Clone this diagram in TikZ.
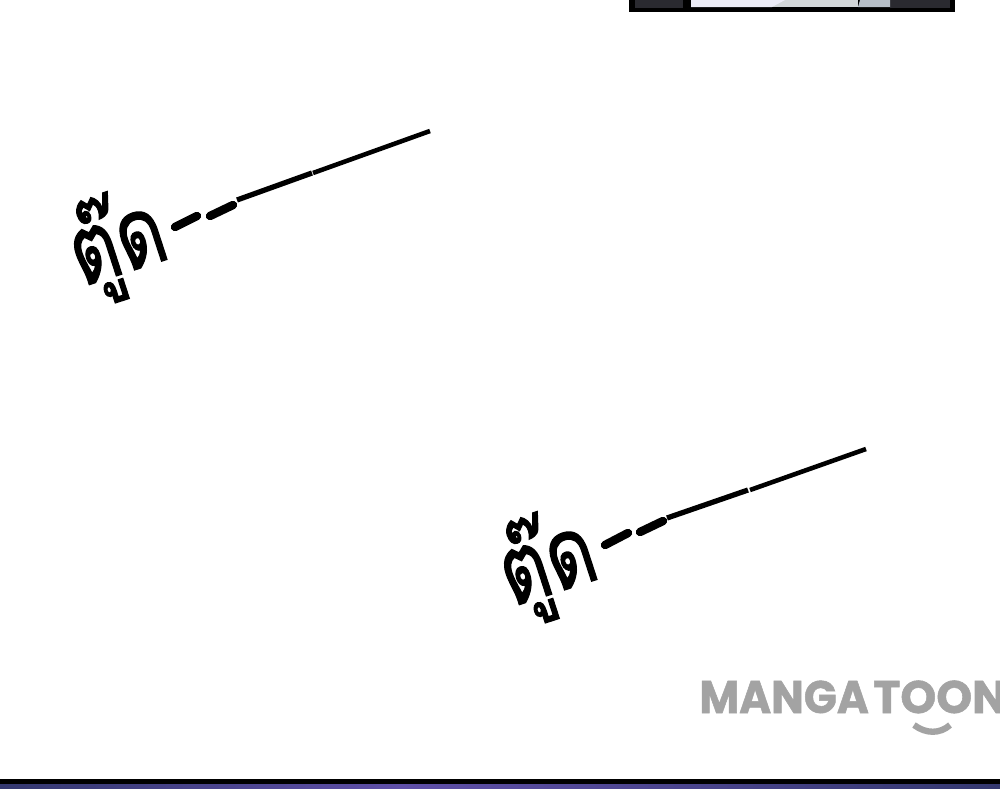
\documentclass[tikz,border=0pt]{standalone}
\usepackage{fontspec}
\setmainfont{Poppins}
\newfontfamily\thaifont[Script=Thai,FakeBold=1.5]{Loma}
\newfontfamily\logofont[FakeBold=1.2]{Poppins Bold}
\definecolor{logogray}{HTML}{A3A3A3}
\definecolor{paneldark}{HTML}{2A2A30}
\definecolor{panellight}{HTML}{ECECF6}
\definecolor{panelgray}{HTML}{D2D6D8}
\definecolor{panelslate}{HTML}{B6BEC6}
\definecolor{bandblue}{HTML}{34386F}
\definecolor{bandglow}{HTML}{5F4FA8}
\tikzset{
    sound/.style={font=\thaifont\fontsize{42}{42}\selectfont, rotate=18, yscale=1.32, inner sep=0pt},
    dashstroke/.style={line width=4.8pt, line cap=round},
    linestroke/.style={line width=2.6pt},
    logotext/.style={font=\logofont\fontsize{26}{26}\selectfont, text=logogray, inner sep=0pt, anchor=base west}
}
\begin{document}
\begin{tikzpicture}[x=0.02cm, y=-0.02cm]
        \useasboundingbox (0,0) rectangle (1000,788);
        \clip (0,0) rectangle (1000,788);

        % Panel cut off at the top
        \fill[black] (629,0) rectangle (955,12);
        \fill[paneldark] (635,0) rectangle (683,8);
        \fill[paneldark] (890,0) rectangle (950,8);
        \fill[panelgray] (691,0) rectangle (858,7);
        \fill[panellight] (691,0) -- (785,0) -- (772,7) -- (691,7) -- cycle;
        \fill[panelslate] (860,0) -- (890,0) -- (890,7) -- (858,7) -- cycle;

        % First sound
        \node[sound] (soundA) at (118,245) {ตู๊ด};
        \draw[dashstroke] (175,227) -- (197,216);
        \draw[dashstroke] (210,216) -- (233,205);
        \draw[linestroke, line width=3pt] (237,200) -- (312,173);
        \draw[linestroke] (313,173) -- (430,131);

        % Second sound
        \node[sound] (soundB) at (548,565) {ตู๊ด};
        \draw[dashstroke] (605,545) -- (628,533);
        \draw[dashstroke] (640,532) -- (663,521);
        \draw[linestroke, line width=3pt] (667,518) -- (748,490);
        \draw[linestroke] (750,490) -- (866,449);

        % Logo
        \node[logotext, xscale=0.95] (logoA) at (699,713) {MANGA};
        \node[logotext] (logoB) at (873,713) {TOON};
        \draw[logogray, line width=3.6pt] (914,725) .. controls (926,734) and (940,734) .. (950,725);

        % Bottom band
        \fill[black] (0,779) rectangle (1000,784);
        \shade[left color=bandblue, right color=bandglow] (0,784) rectangle (400,788);
        \shade[left color=bandglow, right color=bandblue] (400,784) rectangle (1000,788);
    \end{tikzpicture}
\end{document}
